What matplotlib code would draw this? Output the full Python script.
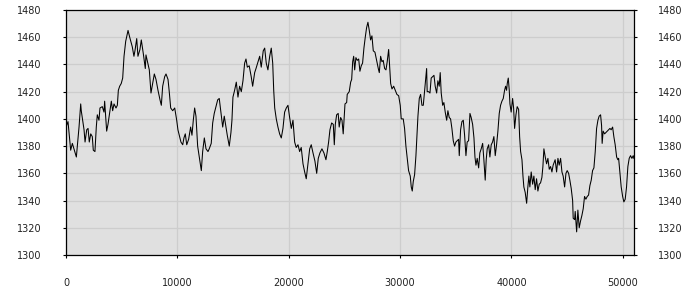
import matplotlib.pyplot as plt

# values
x_vals = [
    0, 180, 420, 570, 930, 1170, 1320, 1370, 1460, 1620, 1710, 1860, 1980, 2090, 2220, 2360,
    2450, 2600, 2720, 2810, 2960, 3050, 3260, 3410, 3470, 3650, 3770, 3950, 4070, 4190, 4310,
    4490, 4610, 4700, 4820, 4960, 5090, 5210, 5360, 5570, 5720, 5950, 6100, 6190, 6350, 6460,
    6640, 6760, 6940, 7120, 7180, 7480, 7630, 7780, 7930, 8080, 8260, 8440, 8560, 8680, 8860,
    8980, 9160, 9270, 9400, 9580, 9760, 9940, 10050, 10170, 10320, 10480, 10590, 10710, 10840,
    11010, 11190, 11310, 11430, 11550, 11670, 11820, 11970, 12150, 12270, 12420, 12570, 12750,
    12860, 13040, 13170, 13310, 13470, 13620, 13760, 13910, 14070, 14210, 14360, 14480, 14660,
    14810, 14900, 14990, 15140, 15290, 15440, 15590, 15740, 15890, 16040, 16160, 16280, 16450,
    16630, 16760, 16940, 17060, 17240, 17390, 17530, 17710, 17840, 17980, 18130, 18290, 18430,
    18560, 18650, 18740, 18880, 19030, 19180, 19330, 19480, 19630, 19780, 19930, 20080, 20230,
    20380, 20530, 20670, 20830, 20980, 21120, 21280, 21430, 21570, 21720, 21880, 22020, 22150,
    22350, 22510, 22650, 22800, 22980, 23160, 23340, 23460, 23580, 23700, 23850, 24000, 24090,
    24180, 24300, 24440, 24530, 24660, 24780, 24890, 24980, 25050, 25200, 25250, 25430, 25560,
    25650, 25740, 25830, 25920, 26030, 26150, 26280, 26390, 26510, 26630, 26750, 26870, 26990,
    27110, 27230, 27350, 27470, 27590, 27740, 27890, 28040, 28130, 28250, 28370, 28480, 28610,
    28730, 28840, 28970, 29090, 29150, 29270, 29420, 29560, 29710, 29870, 30010, 30100, 30280,
    30400, 30520, 30640, 30760, 30910, 31000, 31090, 31180, 31300, 31420, 31510, 31600, 31720,
    31840, 31960, 32080, 32200, 32290, 32380, 32430, 32560, 32680, 32790, 32920, 33040, 33150,
    33280, 33390, 33510, 33600, 33690, 33820, 33930, 34050, 34180, 34290, 34410, 34530, 34650,
    34770, 34890, 35010, 35130, 35250, 35310, 35430, 35550, 35670, 35790, 35910, 36020, 36150,
    36270, 36380, 36510, 36630, 36720, 36810, 36920, 37050, 37160, 37280, 37410, 37520, 37640,
    37730, 37820, 37950, 38060, 38180, 38300, 38420, 38540, 38660, 38780, 38900, 39020, 39140,
    39260, 39380, 39470, 39560, 39620, 39710, 39800, 39860, 39970, 40100, 40190, 40280, 40400,
    40510, 40640, 40730, 40820, 40940, 41030, 41110, 41230, 41360, 41470, 41560, 41650, 41770,
    41900, 42010, 42130, 42250, 42370, 42490, 42610, 42730, 42820, 42910, 43030, 43150, 43270,
    43390, 43510, 43630, 43740, 43920, 44050, 44170, 44280, 44410, 44530, 44640, 44770, 44890,
    45000, 45130, 45240, 45360, 45490, 45540, 45670, 45720, 45850, 45960, 46080, 46200, 46320,
    46440, 46560, 46680, 46800, 46920, 47040, 47160, 47280, 47400, 47520, 47640, 47760, 47870,
    48000, 48090, 48140, 48230, 48360, 48480, 48590, 48720, 48840, 48950, 49080, 49190, 49310,
    49440, 49550, 49620, 49730, 49850, 49980, 50090, 50210, 50330, 50450, 50570, 50690, 50810,
    50930, 50990,
]
y_vals = [
    1394, 1398, 1377, 1382, 1372, 1394, 1411, 1406, 1401, 1392, 1383, 1392, 1393, 1383, 1389, 1387,
    1377, 1376, 1394, 1403, 1399, 1408, 1409, 1405, 1413, 1391, 1396, 1406, 1413, 1406, 1411,
    1408, 1410, 1421, 1424, 1426, 1430, 1446, 1457, 1465, 1460, 1453, 1446, 1450, 1459, 1446,
    1451, 1458, 1448, 1437, 1447, 1436, 1419, 1426, 1433, 1429, 1421, 1414, 1410, 1424, 1431,
    1433, 1429, 1420, 1408, 1406, 1408, 1399, 1392, 1388, 1383, 1381, 1386, 1389, 1381,
    1385, 1394, 1388, 1399, 1408, 1402, 1380, 1372, 1362, 1376, 1386, 1378, 1376,
    1378, 1382, 1397, 1404, 1409, 1414, 1415, 1405, 1394, 1402, 1394, 1388, 1380,
    1390, 1399, 1416, 1421, 1427, 1416, 1424, 1420, 1428, 1441, 1444, 1438, 1439,
    1431, 1424, 1434, 1437, 1442, 1446, 1438, 1450, 1452, 1441, 1436, 1446, 1452,
    1441, 1421, 1408, 1400, 1394, 1389, 1386, 1393, 1405, 1408, 1410, 1401, 1393,
    1399, 1383, 1379, 1381, 1376, 1379, 1367, 1361, 1356, 1367, 1378, 1381, 1376,
    1369, 1360, 1371, 1375, 1378, 1375, 1370, 1376, 1383, 1392, 1397, 1396, 1381,
    1396, 1403, 1404, 1394, 1401, 1399, 1389, 1401, 1411, 1412, 1418, 1420, 1427,
    1429, 1442, 1446, 1436, 1445, 1443, 1444, 1435, 1439, 1441, 1452, 1460, 1467,
    1471, 1465, 1458, 1461, 1450, 1449, 1443, 1437, 1434, 1446, 1442, 1443, 1437,
    1436, 1442, 1451, 1435, 1426, 1422, 1424, 1421, 1418, 1417, 1410, 1400, 1400,
    1393, 1380, 1371, 1362, 1358, 1350, 1347, 1354, 1359, 1373, 1388, 1402, 1415,
    1418, 1410, 1410, 1421, 1429, 1437, 1420, 1420, 1419, 1430, 1431, 1432, 1424,
    1419, 1428, 1424, 1434, 1419, 1410, 1412, 1405, 1399, 1406, 1401, 1400, 1393,
    1384, 1380, 1383, 1384, 1385, 1373, 1392, 1398, 1399, 1388, 1373, 1383, 1384,
    1404, 1401, 1396, 1386, 1372, 1366, 1371, 1364, 1375, 1378, 1382, 1370, 1355,
    1370, 1378, 1381, 1372, 1381, 1383, 1387, 1373, 1381, 1391, 1404, 1410, 1413,
    1415, 1421, 1424, 1421, 1426, 1430, 1421, 1411, 1405, 1415, 1408, 1393, 1403,
    1409, 1407, 1387, 1376, 1370, 1358, 1350, 1346, 1338, 1350, 1358, 1350, 1361,
    1352, 1358, 1348, 1356, 1347, 1352, 1353, 1357, 1365, 1378, 1372, 1367, 1371,
    1363, 1365, 1361, 1366, 1370, 1361, 1371, 1366, 1371, 1361, 1358, 1350, 1360,
    1362, 1360, 1355, 1349, 1340, 1327, 1326, 1332, 1317, 1333, 1320, 1325, 1329,
    1334, 1343, 1341, 1343, 1344, 1351, 1355, 1362, 1364, 1376, 1393, 1399, 1402,
    1403, 1395, 1382, 1391, 1389, 1390, 1391, 1392, 1393, 1392, 1394, 1387, 1381,
    1372, 1370, 1371, 1361, 1350, 1343, 1339, 1341, 1350, 1365, 1371, 1373, 1371,
    1373, 1371,
]
x_ticks = [0, 10000, 20000, 30000, 40000, 50000]
y_ticks = [1300, 1320, 1340, 1360, 1380, 1400, 1420, 1440, 1460, 1480]

fig = plt.figure(figsize=(7, 3), dpi=100)
ax = fig.add_axes([66 / 700, 45 / 300, 568 / 700, 245 / 300])
ax.set_facecolor('#e0e0e0')

ax.plot(x_vals, y_vals, color='black', linewidth=0.75)

ax.set_xlim(0, 51000)
ax.set_ylim(1300, 1480)
ax.set_xticks(x_ticks)
ax.set_yticks(y_ticks)
ax.grid(True, color='#cdcdcd', linewidth=0.9)
ax.set_axisbelow(True)

for s in ax.spines.values():
    s.set_color('black')
    s.set_linewidth(0.9)

ax.tick_params(axis='y', which='both', left=True, right=True, labelleft=True, labelright=True,
               length=2.5, pad=15, labelsize=7, labelcolor='#222222')
ax.tick_params(axis='x', length=2.5, pad=14, labelsize=7, labelcolor='#222222')

fig.savefig('out.png', dpi=100)
